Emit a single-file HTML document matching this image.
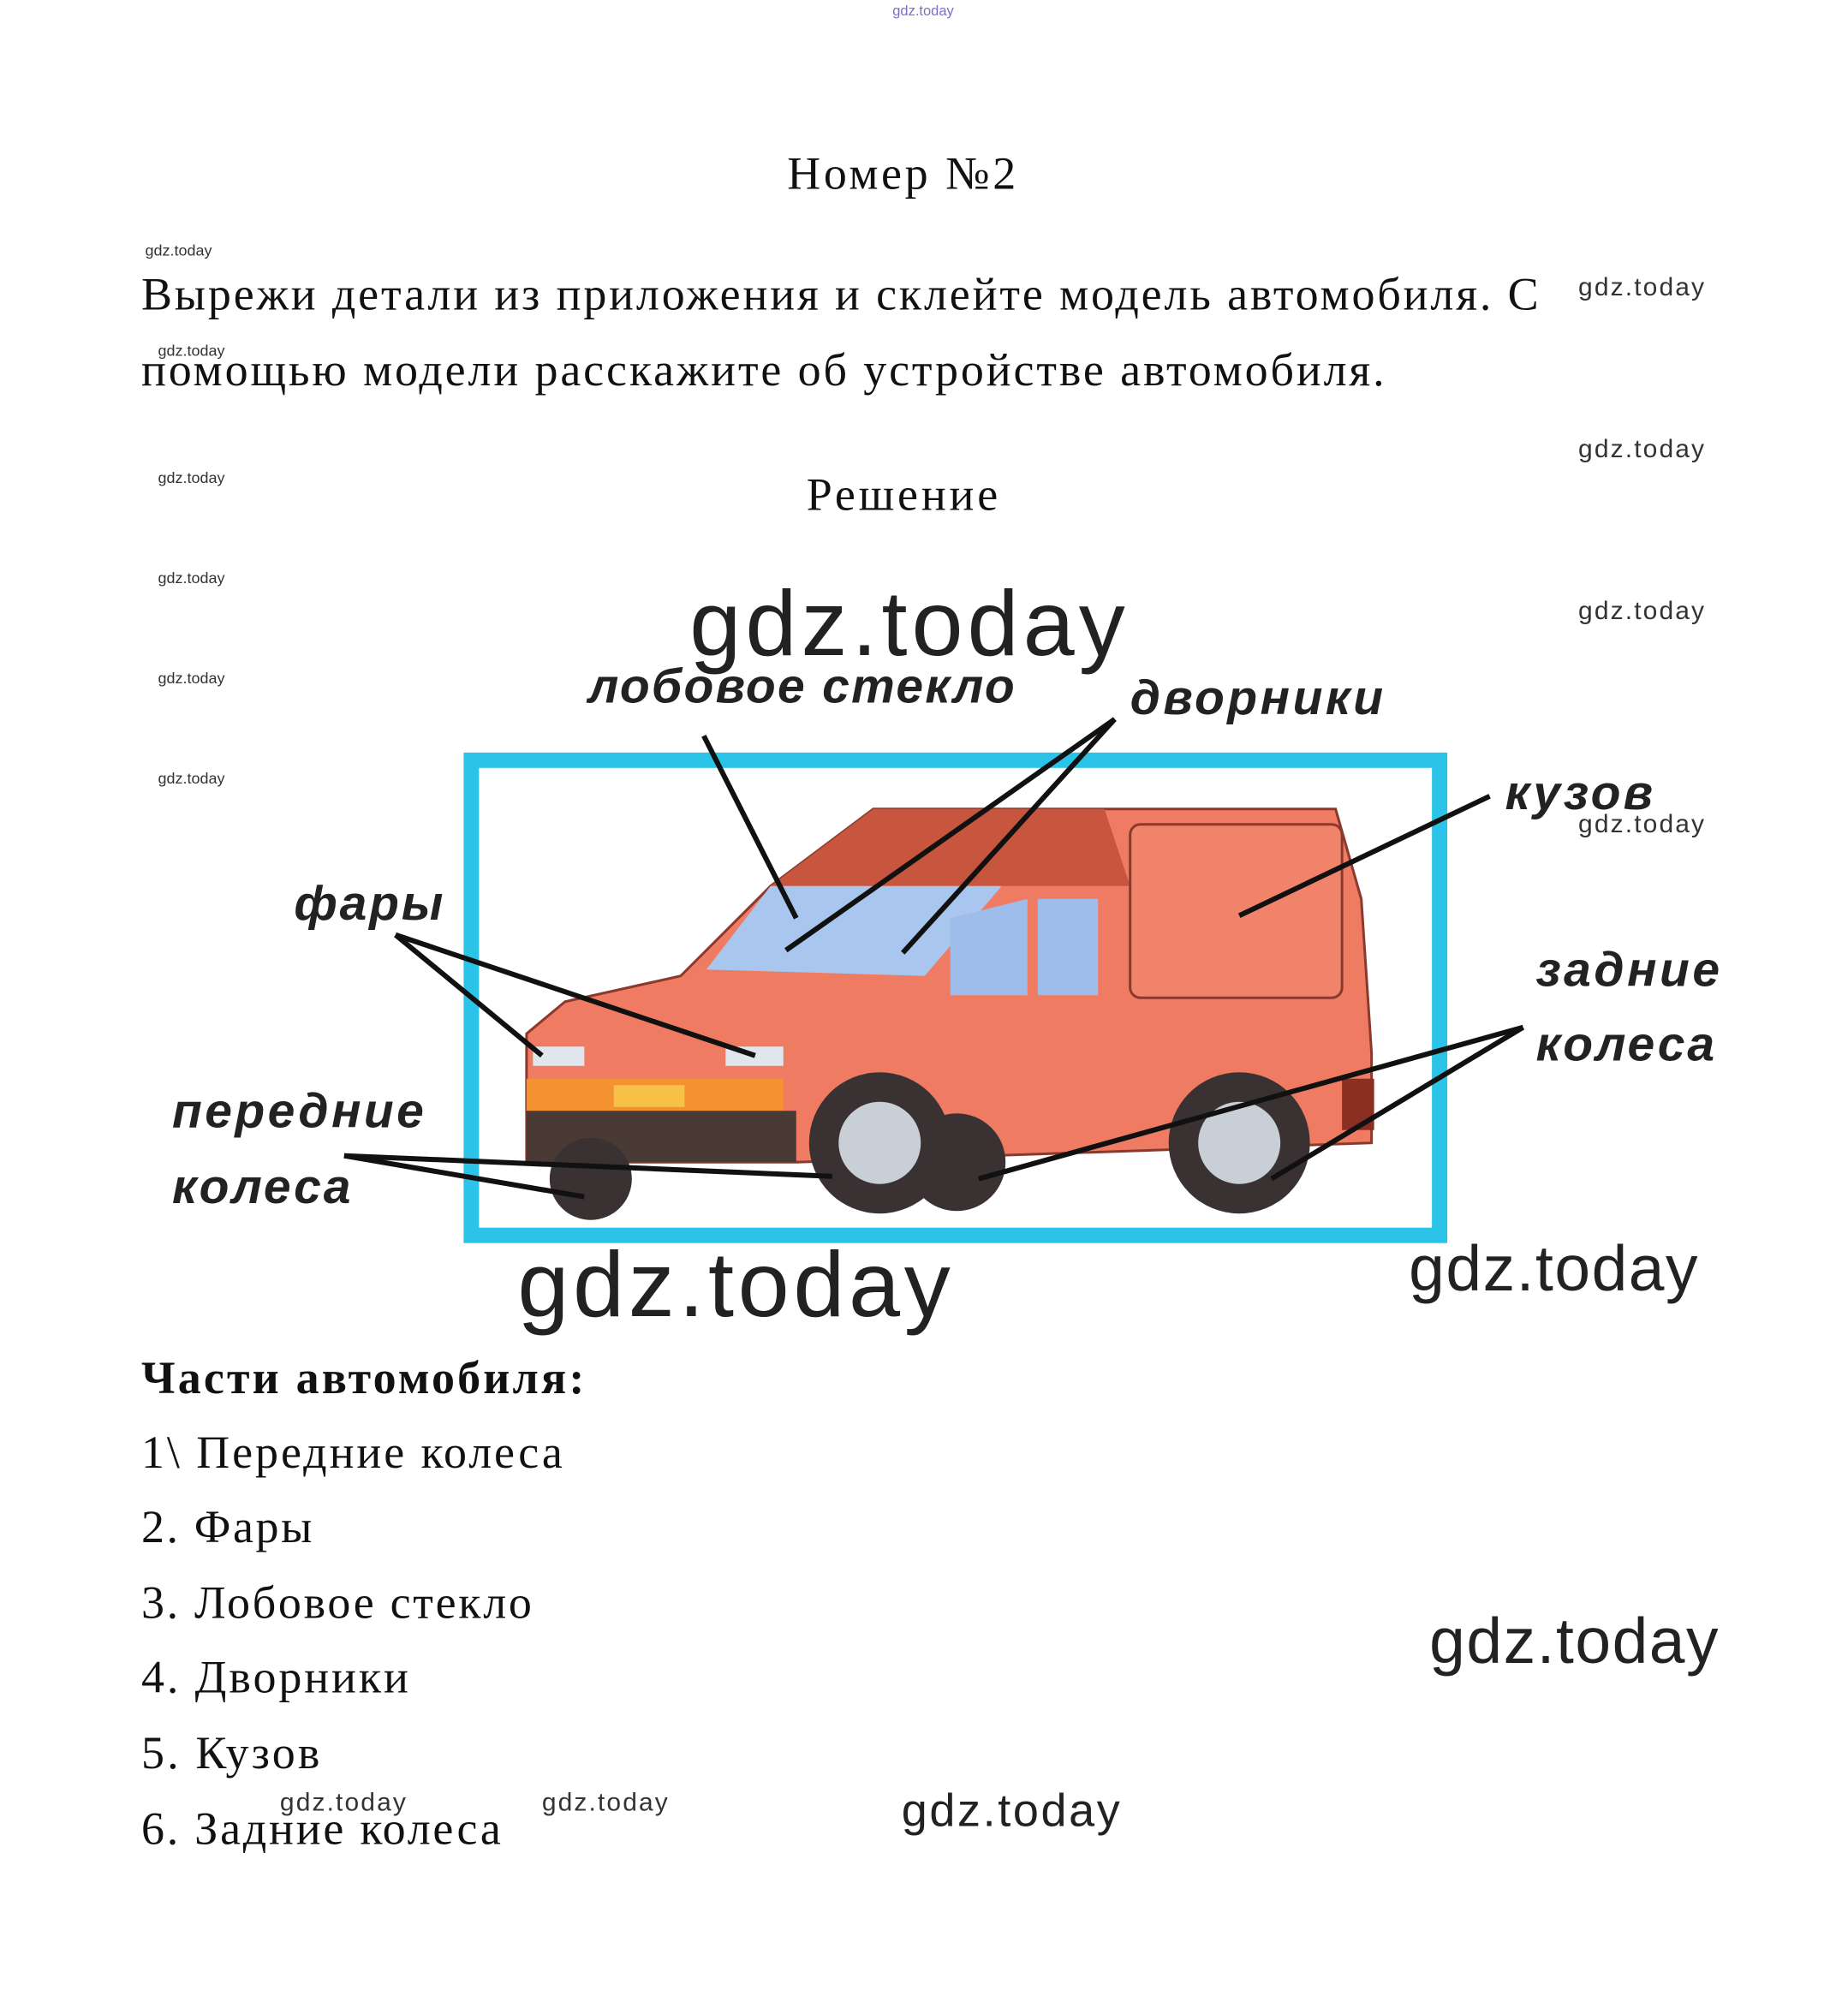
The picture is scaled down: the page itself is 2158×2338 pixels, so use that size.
<!DOCTYPE html>
<html><head><meta charset="utf-8"><style>
html,body{margin:0;padding:0;background:#fff;}
svg{display:block;}
.s{font-family:"Liberation Serif",serif;fill:#111;}
.w{font-family:"Liberation Sans",sans-serif;fill:#333;}
.l{font-family:"Liberation Sans",sans-serif;font-weight:bold;font-style:italic;fill:#222;}
</style></head><body>
<svg width="2158" height="2338" viewBox="0 0 1439 1559" preserveAspectRatio="none" xmlns="http://www.w3.org/2000/svg">
<rect width="1439" height="1559" fill="#fff"/>
<text x="695" y="12" class="w" font-size="11" style="fill:#7b6fd0">gdz.today</text>
<text x="613" y="147" class="s" font-size="36" textLength="178">Номер №2</text>
<g class="w" font-size="12" fill="#555">
<text x="113" y="199">gdz.today</text><text x="123" y="277">gdz.today</text>
<text x="123" y="376">gdz.today</text><text x="123" y="454">gdz.today</text>
<text x="123" y="532">gdz.today</text><text x="123" y="610">gdz.today</text>
</g>
<g class="w" font-size="20">
<text x="1229" y="230" textLength="98">gdz.today</text><text x="1229" y="356" textLength="98">gdz.today</text>
<text x="1229" y="482" textLength="98">gdz.today</text><text x="1229" y="648" textLength="98">gdz.today</text>
<text x="218" y="1410" textLength="98">gdz.today</text><text x="422" y="1410" textLength="98">gdz.today</text>
</g>
<text x="110" y="241" class="s" font-size="36" textLength="1088">Вырежи детали из приложения и склейте модель автомобиля. С</text>
<text x="110" y="300" class="s" font-size="36" textLength="968">помощью модели расскажите об устройстве автомобиля.</text>
<text x="628" y="397" class="s" font-size="36" textLength="149">Решение</text>
<rect x="367" y="592" width="754" height="370" fill="none" stroke="#2bc3e8" stroke-width="12"/>
<polygon points="680,630 1040,630 1060,700 1068,820 1068,890 620,905 410,905 410,805 440,780 530,760 600,690" fill="#ef7b63" stroke="#8a3a2c" stroke-width="2"/>
<polygon points="680,630 860,630 880,690 600,690" fill="#c8563f"/>
<polygon points="600,690 780,690 720,760 550,755" fill="#a9c6ee"/>
<polygon points="740,715 800,700 800,775 740,775" fill="#9fbdea"/>
<polygon points="808,700 855,700 855,775 808,775" fill="#9fbdea"/>
<rect x="880" y="642" width="165" height="135" fill="#f2836b" stroke="#8a3a2c" stroke-width="2" rx="8"/>
<rect x="410" y="840" width="200" height="25" fill="#f49232"/>
<rect x="478" y="845" width="55" height="17" fill="#f7c148"/>
<rect x="410" y="865" width="210" height="40" fill="#4a3a36"/>
<rect x="415" y="815" width="40" height="15" fill="#e0e6ee"/>
<rect x="565" y="815" width="45" height="15" fill="#e0e6ee"/>
<rect x="1045" y="840" width="25" height="40" fill="#8a2f22"/>
<circle cx="460" cy="918" r="32" fill="#3a3232"/>
<circle cx="745" cy="905" r="38" fill="#3a3232"/>
<circle cx="685" cy="890" r="55" fill="#3a3232"/><circle cx="685" cy="890" r="32" fill="#c9cfd6"/>
<circle cx="965" cy="890" r="55" fill="#3a3232"/><circle cx="965" cy="890" r="32" fill="#c9cfd6"/>
<g stroke="#111" stroke-width="4" fill="none">
<line x1="548" y1="573" x2="620" y2="715"/>
<line x1="868" y1="560" x2="612" y2="740"/><line x1="868" y1="560" x2="703" y2="742"/>
<line x1="1160" y1="620" x2="965" y2="713"/>
<line x1="308" y1="728" x2="422" y2="822"/><line x1="308" y1="728" x2="588" y2="822"/>
<line x1="268" y1="900" x2="455" y2="932"/><line x1="268" y1="900" x2="648" y2="916"/>
<line x1="1186" y1="800" x2="762" y2="918"/><line x1="1186" y1="800" x2="990" y2="918"/>
</g>
<g class="l" font-size="38">
<text x="458" y="547" textLength="332">лобовое стекло</text>
<text x="880" y="556" textLength="197">дворники</text>
<text x="1172" y="630" textLength="115">кузов</text>
<text x="229" y="716" textLength="116">фары</text>
<text x="1196" y="768" textLength="143">задние</text>
<text x="1196" y="826" textLength="139">колеса</text>
<text x="134" y="878" textLength="196">передние</text>
<text x="134" y="937" textLength="139">колеса</text>
</g>
<g class="w" style="fill:#222">
<text x="537" y="510" font-size="72" textLength="339">gdz.today</text>
<text x="403" y="1025" font-size="72" textLength="337">gdz.today</text>
<text x="1097" y="1005" font-size="50" textLength="225">gdz.today</text>
<text x="1113" y="1295" font-size="50" textLength="225">gdz.today</text>
<text x="702" y="1422" font-size="36" textLength="170">gdz.today</text>
</g>
<text x="110" y="1085" class="s" font-size="36" font-weight="bold" textLength="345">Части автомобиля:</text>
<g class="s" font-size="36">
<text x="110" y="1143" textLength="328">1\ Передние колеса</text>
<text x="110" y="1201" textLength="133">2. Фары</text>
<text x="110" y="1260" textLength="304">3. Лобовое стекло</text>
<text x="110" y="1318" textLength="208">4. Дворники</text>
<text x="110" y="1377" textLength="139">5. Кузов</text>
<text x="110" y="1436" textLength="280">6. Задние колеса</text>
</g>
</svg>
</body></html>
